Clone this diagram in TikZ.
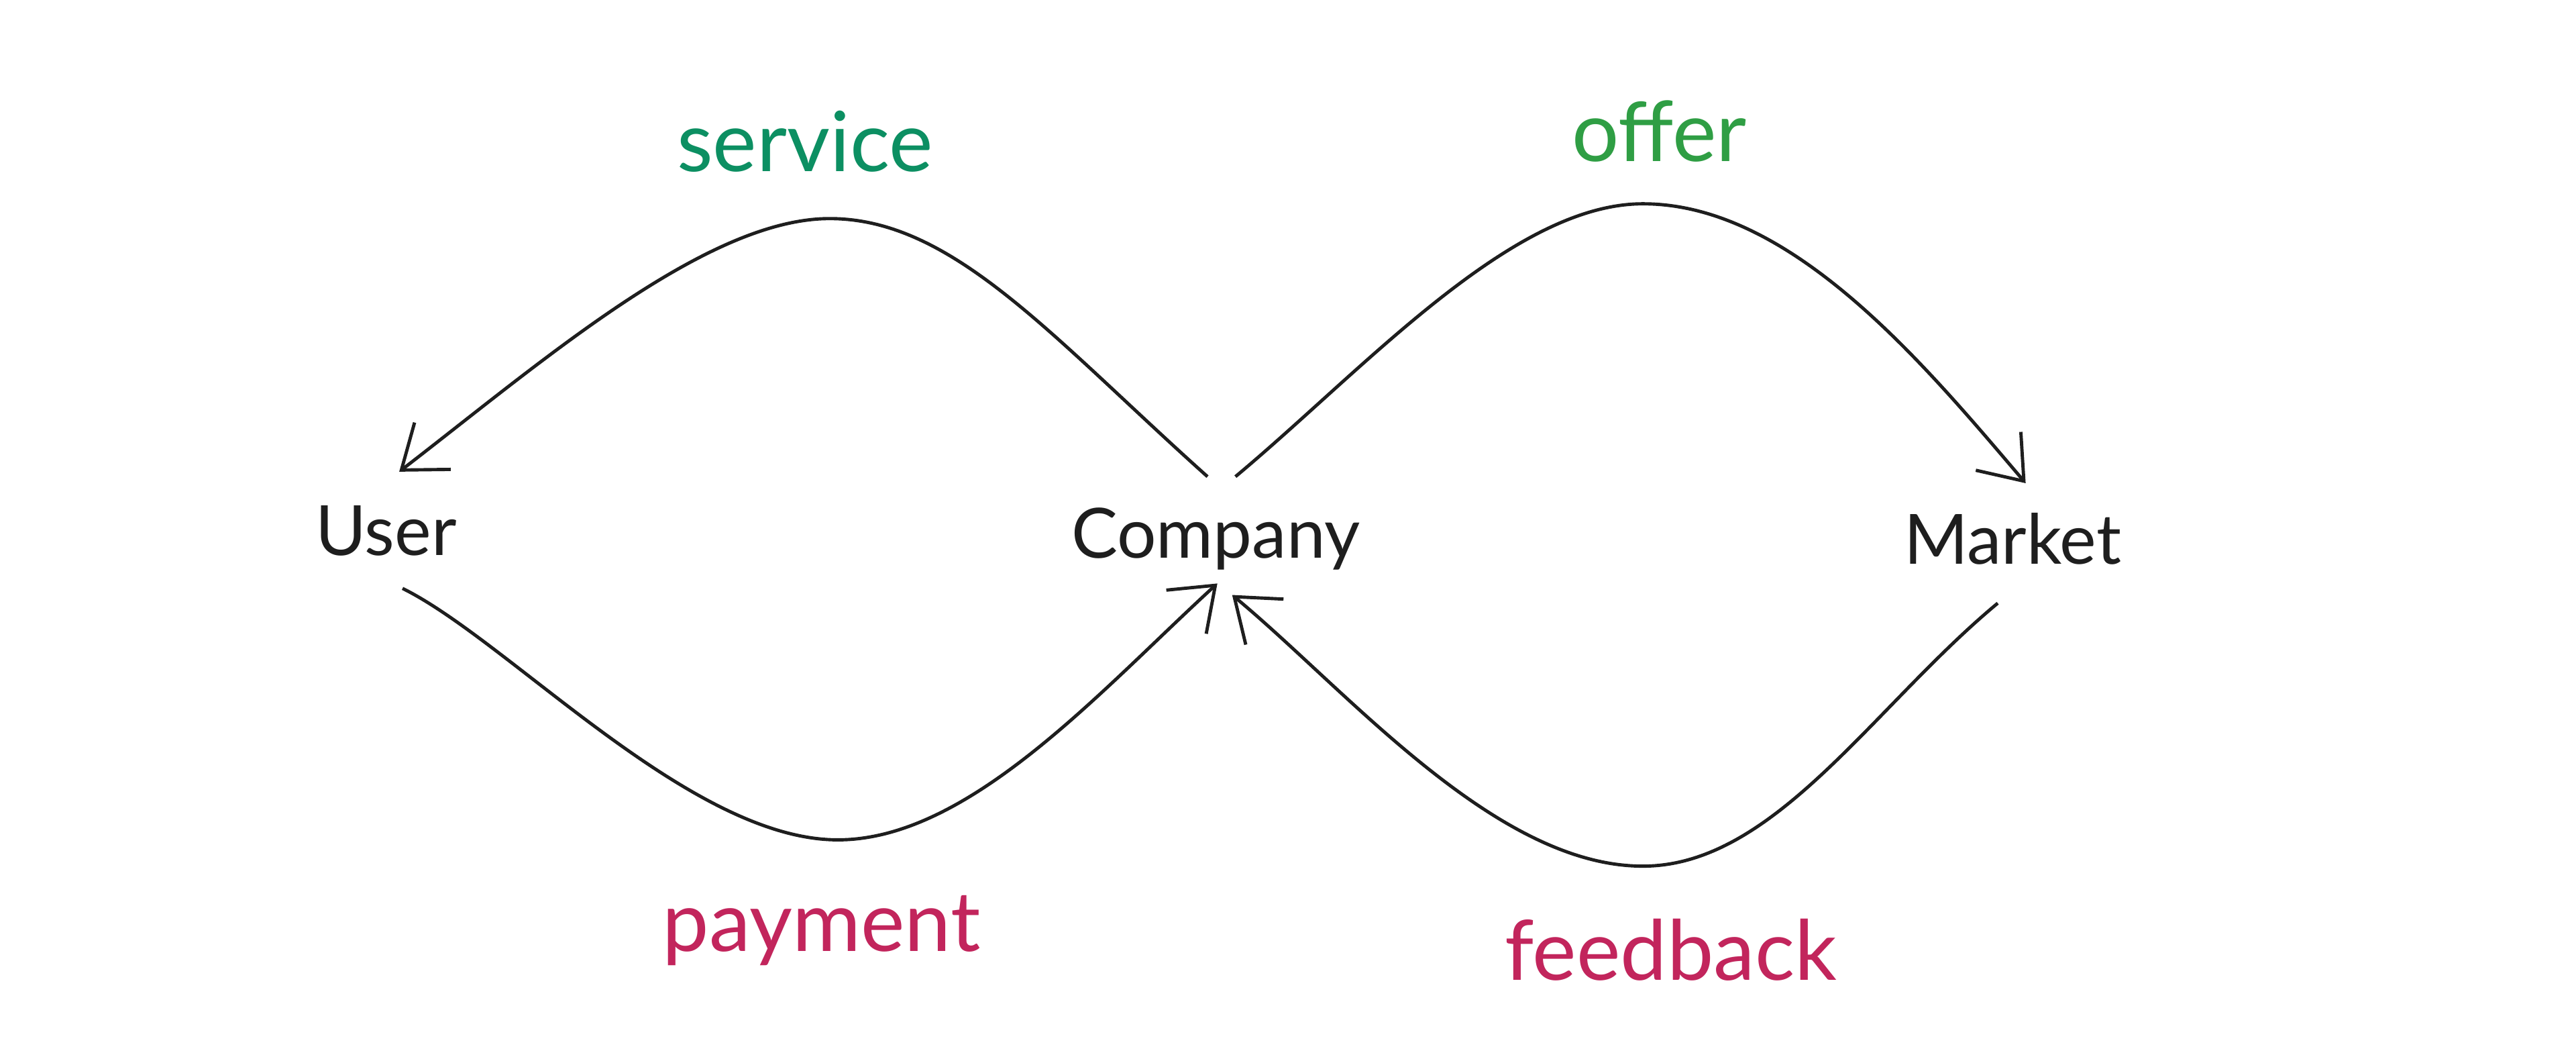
\documentclass[tikz,border=0pt]{standalone}
\usepackage{fontspec}
\setmainfont{Lato}
\usetikzlibrary{arrows.meta}
\definecolor{ink}{HTML}{1E1E1E}
\definecolor{teal}{HTML}{0C8F62}
\definecolor{grn}{HTML}{2F9E44}
\definecolor{rose}{HTML}{C2255C}
\begin{document}
\begin{tikzpicture}[x=0.25mm,y=-0.25mm,
  ent/.style={text=ink,font=\fontsize{30}{36}\selectfont},
  lab/.style={font=\fontsize{36}{42}\selectfont},
  flow/.style={draw=ink,line width=0.5mm,-{Straight Barb[length=6mm,width=9mm,line width=0.5mm]}}]
\useasboundingbox (0,0) rectangle (1568,643);
\node[ent] (user) at (235,323) {User};
\node[ent] (comp) at (740,328) {Company};
\node[ent] (mark) at (1225,328) {Market};
\node[lab,text=teal] (service) at (490,86) {service};
\node[lab,text=grn] (offer) at (1010,80) {offer};
\node[lab,text=rose] (payment) at (500,566) {payment};
\node[lab,text=rose] (feedback) at (1017,578) {feedback};
\coordinate (s1) at (735,290); \coordinate (s2) at (243,287);
\coordinate (o1) at (752,290); \coordinate (o2) at (1233,294);
\coordinate (p1) at (245,358); \coordinate (p2) at (741,355);
\coordinate (f1) at (1216,367); \coordinate (f2) at (750,362);
\draw[flow] (s1) .. controls (640,205) and (580,133) .. (505,133) .. controls (430,133) and (330,220) .. (s2);
\draw[flow] (o1) .. controls (830,225) and (920,124) .. (1000,124) .. controls (1090,124) and (1170,220) .. (o2);
\draw[flow] (p1) .. controls (310,390) and (420,511) .. (510,511) .. controls (590,511) and (670,420) .. (p2);
\draw[flow] (f1) .. controls (1140,430) and (1080,527) .. (1000,527) .. controls (910,527) and (820,420) .. (f2);
\end{tikzpicture}
\end{document}
